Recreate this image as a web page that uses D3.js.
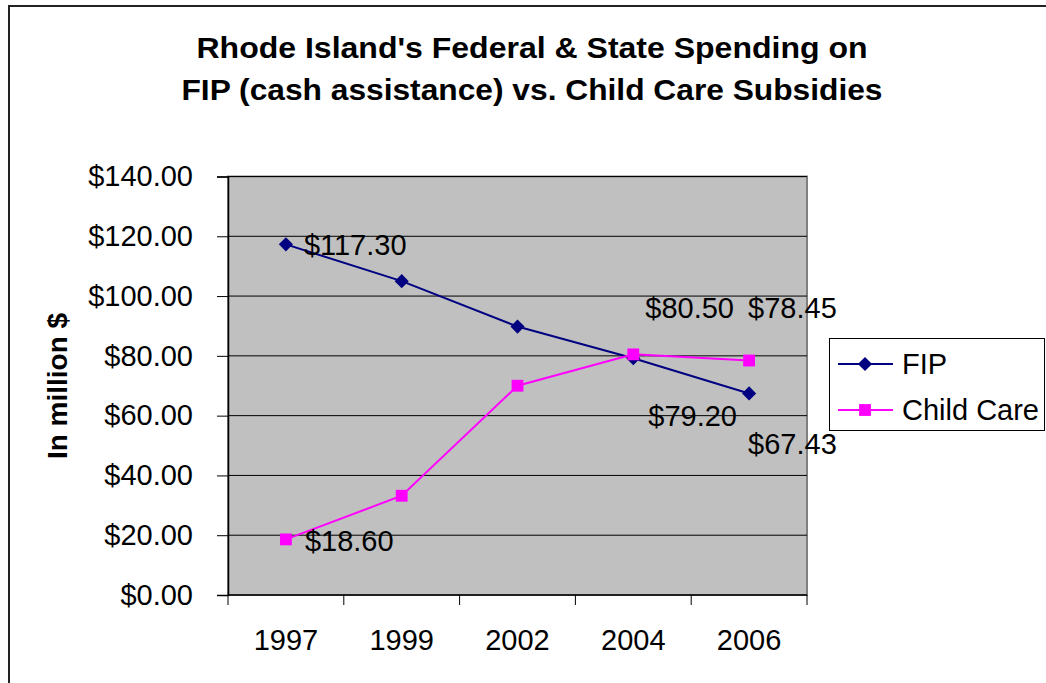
<!DOCTYPE html>
<html>
<head>
<meta charset="utf-8">
<script src="https://cdn.jsdelivr.net/npm/d3@7"></script>
<style>
  html, body { margin: 0; padding: 0; background: #fff; }
  svg { display: block; font-family: "Liberation Sans", Arial, sans-serif; }
</style>
</head>
<body>
<svg id="chart" width="1046" height="683"></svg>
<script>
// Spending by year, in million dollars
const years = ["1997", "1999", "2002", "2004", "2006"];
const fipValues = [117.30, 105.0, 89.8, 79.20, 67.43];
const childCareValues = [18.60, 33.2, 70.0, 80.50, 78.45];
const yTicks = [0, 20, 40, 60, 80, 100, 120, 140];

// Which points carry a value label, and where the label sits relative to the point
const fipLabelled = [0, 3, 4];
const fipLabelOffsets = [[18, 11], [15, 68], [-1, 61]];
const ccLabelled = [0, 3, 4];
const ccLabelOffsets = [[19, 12], [12, -36], [-1, -42]];

const svg = d3.select("#chart");
const plot = { left: 228, right: 807, top: 176.5, bottom: 595 };

// Outer chart frame
svg.append("rect")
  .attr("x", 9).attr("y", 6).attr("width", 1100).attr("height", 800)
  .attr("fill", "#fff").attr("stroke", "#222").attr("stroke-width", 2);

// Title
const titleLines = [
  { text: "Rhode Island's Federal & State Spending on", y: 58, len: 671 },
  { text: "FIP (cash assistance) vs. Child Care Subsidies", y: 100, len: 701 }
];
svg.selectAll("text.title").data(titleLines).join("text")
  .attr("class", "title")
  .attr("x", 532).attr("y", d => d.y)
  .attr("text-anchor", "middle")
  .attr("font-size", 30).attr("font-weight", "bold")
  .attr("textLength", d => d.len).attr("lengthAdjust", "spacingAndGlyphs")
  .text(d => d.text);

const x = d3.scaleBand().domain(years).range([plot.left, plot.right]);
const xc = d => x(d) + x.bandwidth() / 2;
const y = d3.scaleLinear().domain([0, 140]).range([plot.bottom, plot.top]);

// Plot background
svg.append("rect")
  .attr("x", plot.left).attr("y", plot.top)
  .attr("width", plot.right - plot.left).attr("height", plot.bottom - plot.top)
  .attr("fill", "#c0c0c0").attr("stroke", "#808080").attr("stroke-width", 2);

// Horizontal gridlines
svg.append("g").selectAll("line").data(yTicks.filter(v => v > 0)).join("line")
  .attr("x1", plot.left).attr("x2", plot.right)
  .attr("y1", d => y(d)).attr("y2", d => y(d))
  .attr("stroke", "#000").attr("stroke-width", 1);

// Y axis
const yAxis = svg.append("g")
  .attr("transform", `translate(${plot.left},0)`)
  .call(d3.axisLeft(y).tickValues(yTicks).tickSize(11).tickPadding(24)
    .tickFormat(d => "$" + d3.format(".2f")(d)));
yAxis.select(".domain").attr("stroke", "#000").attr("stroke-width", 1.5);
yAxis.selectAll(".tick line").attr("stroke", "#000");
yAxis.selectAll("text").attr("font-size", 29).attr("fill", "#000")
  .attr("font-family", "Liberation Sans, Arial, sans-serif");

// X axis with ticks between categories
const xAxisG = svg.append("g").attr("transform", `translate(0,${plot.bottom})`);
xAxisG.append("line").attr("x1", plot.left).attr("x2", plot.right)
  .attr("stroke", "#000").attr("stroke-width", 1.5);
const boundaries = years.map(d => x(d)).concat([x(years[years.length - 1]) + x.bandwidth()]);
xAxisG.selectAll("line.tk").data(boundaries).join("line")
  .attr("class", "tk")
  .attr("x1", d => d).attr("x2", d => d).attr("y1", 0).attr("y2", 10)
  .attr("stroke", "#000");
xAxisG.selectAll("text").data(years).join("text")
  .attr("x", d => xc(d)).attr("y", 55)
  .attr("text-anchor", "middle").attr("font-size", 29)
  .text(d => d);

// Y axis title
svg.append("text")
  .attr("transform", "translate(67,386) rotate(-90)")
  .attr("text-anchor", "middle")
  .attr("font-size", 28).attr("font-weight", "bold")
  .text("In million $");

// Series: FIP uses a square turned 45 degrees as its diamond marker
const series = [
  { name: "FIP", values: fipValues, color: "#000080", size: 100, rotate: 45,
    labelled: fipLabelled, offsets: fipLabelOffsets },
  { name: "Child Care", values: childCareValues, color: "#ff00ff", size: 140, rotate: 0,
    labelled: ccLabelled, offsets: ccLabelOffsets }
];

const line = d3.line().x((d, i) => xc(years[i])).y(d => y(d));

series.forEach(s => {
  svg.append("path").datum(s.values)
    .attr("d", line).attr("fill", "none")
    .attr("stroke", s.color).attr("stroke-width", 2);
  svg.append("g").selectAll("path").data(s.values).join("path")
    .attr("transform", (d, i) => `translate(${xc(years[i])},${y(d)}) rotate(${s.rotate})`)
    .attr("d", d3.symbol().type(d3.symbolSquare).size(s.size))
    .attr("fill", s.color);
});

// Value labels
series.forEach(s => {
  svg.append("g").selectAll("text").data(s.labelled).join("text")
    .attr("x", (idx, k) => xc(years[idx]) + s.offsets[k][0])
    .attr("y", (idx, k) => y(s.values[idx]) + s.offsets[k][1])
    .attr("font-size", 29).attr("fill", "#000")
    .text(idx => "$" + d3.format(".2f")(s.values[idx]));
});

// Legend
const legend = svg.append("g");
legend.append("rect")
  .attr("x", 829.5).attr("y", 338.5).attr("width", 215).attr("height", 92)
  .attr("fill", "#fff").attr("stroke", "#000").attr("stroke-width", 1);
series.forEach((s, i) => {
  const ly = 364 + i * 46;
  legend.append("line").attr("x1", 838).attr("x2", 893).attr("y1", ly).attr("y2", ly)
    .attr("stroke", s.color).attr("stroke-width", 2);
  legend.append("path")
    .attr("transform", `translate(865,${ly}) rotate(${s.rotate})`)
    .attr("d", d3.symbol().type(d3.symbolSquare).size(s.size))
    .attr("fill", s.color);
  legend.append("text").attr("x", 902).attr("y", ly + 10)
    .attr("font-size", 29).text(s.name);
});
</script>
</body>
</html>
